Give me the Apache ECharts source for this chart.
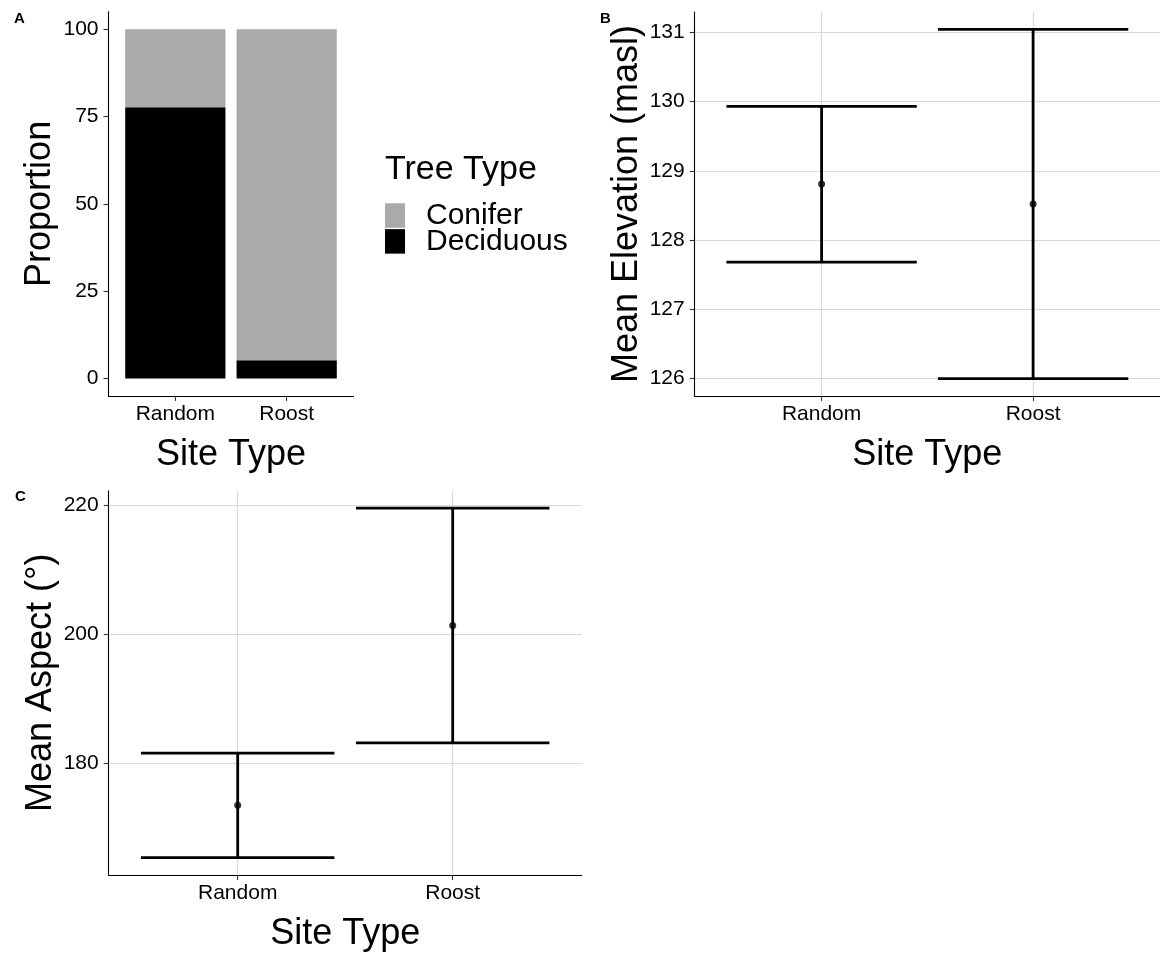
<!DOCTYPE html>
<html><head><meta charset="utf-8">
<script src="https://cdn.jsdelivr.net/npm/echarts@6/dist/echarts.min.js"></script>
<style>html,body{margin:0;padding:0;background:#fff}#c{width:1160px;height:953px}</style>
</head><body><div id="c"></div>
<script>
// ---- data ----
const categories = ['Random', 'Roost'];
const treeTypes = ['Conifer', 'Deciduous'];
const coniferPct = [22.3, 94.8];
const deciduousPct = [77.7, 5.2];
const proportionTicks = [0, 25, 50, 75, 100];
const elevMean = [128.81, 128.52];
const elevLower = [127.68, 126.00];
const elevUpper = [129.93, 131.04];
const elevTicks = [126, 127, 128, 129, 130, 131];
const aspectMean = [173.5, 201.4];
const aspectLower = [165.4, 183.2];
const aspectUpper = [181.6, 219.6];
const aspectTicks = [180, 200, 220];
const panelLetters = ['A', 'B', 'C'];

const FONT = "'Liberation Sans', Arial, Helvetica, sans-serif";
const catPos = categories.map((c, i) => i + 1);
function expand(lo, hi) { const s = (hi - lo) * 0.05; return [lo - s, hi + s]; }
const propRange = expand(0, 100);
const elevRange = expand(Math.min(...elevLower), Math.max(...elevUpper));
const aspRange = expand(Math.min(...aspectLower), Math.max(...aspectUpper));

const chart = echarts.init(document.getElementById('c'), null, { renderer: 'canvas' });

function barItem(params, api) {
  const x = api.value(0), y0 = api.value(1), y1 = api.value(2);
  const p0 = api.coord([x - 0.45, y1]);
  const p1 = api.coord([x + 0.45, y0]);
  return { type: 'rect', shape: { x: p0[0], y: p0[1], width: p1[0] - p0[0], height: p1[1] - p0[1] },
           style: { fill: api.visual('color') } };
}
function errItem(params, api) {
  const x = api.value(0), lo = api.value(1), hi = api.value(2);
  const a = api.coord([x - 0.45, hi]), b = api.coord([x + 0.45, hi]);
  const c = api.coord([x - 0.45, lo]), d = api.coord([x + 0.45, lo]);
  const st = { stroke: '#000', lineWidth: 2.8 };
  return { type: 'group', children: [
    { type: 'line', shape: { x1: a[0], y1: a[1], x2: b[0], y2: b[1] }, style: st },
    { type: 'line', shape: { x1: c[0], y1: c[1], x2: d[0], y2: d[1] }, style: st },
    { type: 'line', shape: { x1: (a[0] + b[0]) / 2, y1: a[1], x2: (c[0] + d[0]) / 2, y2: c[1] }, style: st }
  ] };
}

function xAxisDef(gridIndex, grid) {
  return {
    type: 'value', gridIndex, min: 0.4, max: 2.6,
    axisLine: { show: true, onZero: false, lineStyle: { color: '#000', width: 1.1 } },
    axisTick: { show: true, customValues: catPos, length: 5, lineStyle: { color: '#333', width: 1.1 } },
    axisLabel: { customValues: catPos, formatter: v => categories[Math.round(v) - 1], fontSize: 21,
                 color: '#000', fontFamily: FONT, margin: 8 },
    splitLine: { show: grid, lineStyle: { color: '#d9d9d9', width: 1.2 } },
    name: 'Site Type', nameLocation: 'middle', nameGap: 41,
    nameTextStyle: { fontSize: 36, color: '#000', fontFamily: FONT }
  };
}
function yAxisDef(gridIndex, range, ticks, name, grid) {
  return {
    type: 'value', gridIndex, min: range[0], max: range[1],
    axisLine: { show: true, onZero: false, lineStyle: { color: '#000', width: 1.1 } },
    axisTick: { show: true, customValues: ticks, length: 5, lineStyle: { color: '#333', width: 1.1 } },
    axisLabel: { customValues: ticks, fontSize: 21, color: '#000', fontFamily: FONT, margin: 10 },
    splitLine: { show: grid, lineStyle: { color: '#d9d9d9', width: 1.2 } },
    name, nameLocation: 'middle', nameGap: 50,
    nameTextStyle: { fontSize: 36, color: '#000', fontFamily: FONT }
  };
}

const option = {
  backgroundColor: '#fff',
  animation: false,
  textStyle: { fontFamily: FONT },
  title: [
    { text: 'Tree Type', left: 385, top: 153, padding: 0,
      textStyle: { fontSize: 34, fontWeight: 'normal', color: '#000', fontFamily: FONT } },
    { text: panelLetters[0], left: 14, top: 11, padding: 0,
      textStyle: { fontSize: 15, fontWeight: 'bold', color: '#000', fontFamily: FONT } },
    { text: panelLetters[1], left: 600, top: 11, padding: 0,
      textStyle: { fontSize: 15, fontWeight: 'bold', color: '#000', fontFamily: FONT } },
    { text: panelLetters[2], left: 15, top: 489, padding: 0,
      textStyle: { fontSize: 15, fontWeight: 'bold', color: '#000', fontFamily: FONT } }
  ],
  legend: {
    data: treeTypes, left: 385, top: 200.5, orient: 'vertical', icon: 'rect', padding: 0,
    itemWidth: 20, itemHeight: 24.5, itemGap: -4.1, selectedMode: false,
    textStyle: { fontSize: 30, color: '#000', fontFamily: FONT, lineHeight: 24.5, padding: [0, 0, 0, 16] }
  },
  grid: [
    { left: 108.5, top: 11.9, width: 245, height: 384 },
    { left: 694.7, top: 12, width: 471.3, height: 384 },
    { left: 108.7, top: 490.7, width: 473, height: 384.6 }
  ],
  xAxis: [xAxisDef(0, false), xAxisDef(1, true), xAxisDef(2, true)],
  yAxis: [
    yAxisDef(0, propRange, proportionTicks, 'Proportion', false),
    yAxisDef(1, elevRange, elevTicks, 'Mean Elevation (masl)', true),
    yAxisDef(2, aspRange, aspectTicks, 'Mean Aspect (°)', true)
  ],
  series: [
    { name: 'Deciduous', type: 'custom', xAxisIndex: 0, yAxisIndex: 0, renderItem: barItem,
      itemStyle: { color: '#000000' }, encode: { x: 0, y: [1, 2] },
      data: catPos.map((x, i) => [x, 0, deciduousPct[i]]) },
    { name: 'Conifer', type: 'custom', xAxisIndex: 0, yAxisIndex: 0, renderItem: barItem,
      itemStyle: { color: '#aaaaaa' }, encode: { x: 0, y: [1, 2] },
      data: catPos.map((x, i) => [x, deciduousPct[i], deciduousPct[i] + coniferPct[i]]) },
    { name: 'Elevation CI', type: 'custom', xAxisIndex: 1, yAxisIndex: 1, renderItem: errItem,
      encode: { x: 0, y: [1, 2] }, data: catPos.map((x, i) => [x, elevLower[i], elevUpper[i]]) },
    { name: 'Elevation mean', type: 'scatter', xAxisIndex: 1, yAxisIndex: 1, symbolSize: 7,
      itemStyle: { color: '#000' }, data: catPos.map((x, i) => [x, elevMean[i]]) },
    { name: 'Aspect CI', type: 'custom', xAxisIndex: 2, yAxisIndex: 2, renderItem: errItem,
      encode: { x: 0, y: [1, 2] }, data: catPos.map((x, i) => [x, aspectLower[i], aspectUpper[i]]) },
    { name: 'Aspect mean', type: 'scatter', xAxisIndex: 2, yAxisIndex: 2, symbolSize: 7,
      itemStyle: { color: '#000' }, data: catPos.map((x, i) => [x, aspectMean[i]]) }
  ]
};
chart.setOption(option);
</script>
</body></html>
